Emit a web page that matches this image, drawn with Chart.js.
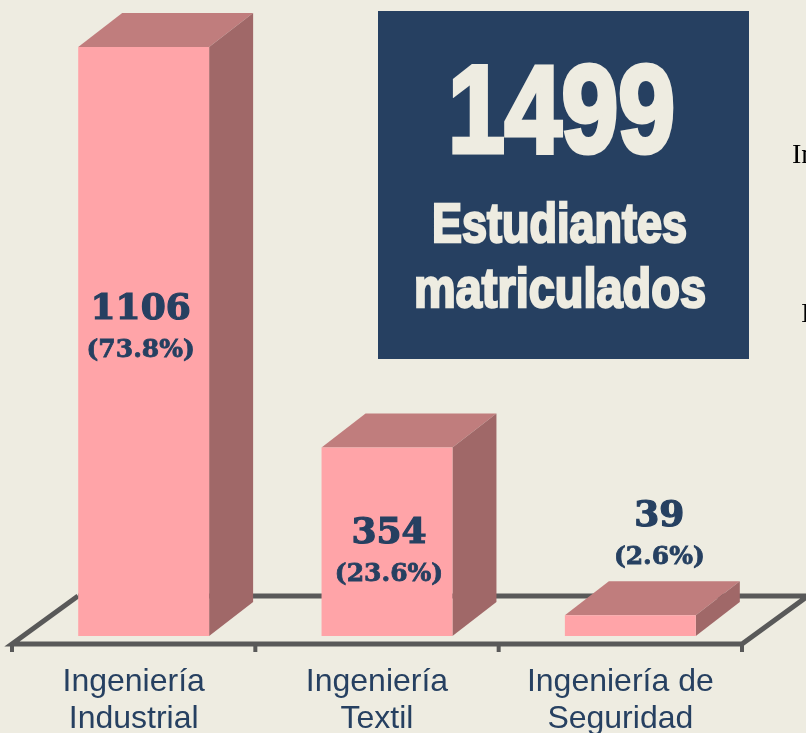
<!DOCTYPE html>
<html lang="es">
<head>
<meta charset="utf-8">
<style>
html,body{margin:0;padding:0;background:#EEECE1;overflow:hidden}
#wrap{position:relative;width:806px;height:733px}
canvas{display:block}
</style>
<script src="https://cdn.jsdelivr.net/npm/chart.js@4"></script>
</head>
<body>
<div id="wrap"><canvas id="c" width="806" height="733"></canvas></div>
<script>
const categories = [["Ingeniería","Industrial"],["Ingeniería","Textil"],["Ingeniería de","Seguridad"]];
const values = [1106, 354, 39];
const percents = ["(73.8%)", "(23.6%)", "(2.6%)"];
const totalValue = "1499";
const panelLines = ["Estudiantes", "matriculados"];
const clippedLegend = ["In", "I"];

const NAVY = "#264061", CREAM = "#EEECE1", FRONT = "#FFA4A8", TOP = "#C07D7D", SIDE = "#A06868", FLOOR = "#595959";
const DX = 44, DY = 34, FLOOR_DROP = 8, FLOOR_SHIFT = 10;
const LABEL_CENTERS = [310, 534, 517];
const LABEL_SHIFTS = [-3, 2, 29];
const PCT_GAP = 40;

function poly(ctx, pts, fill) {
  ctx.beginPath();
  pts.forEach((p, i) => i ? ctx.lineTo(p[0], p[1]) : ctx.moveTo(p[0], p[1]));
  ctx.closePath();
  ctx.fillStyle = fill;
  ctx.fill();
}
function fitText(ctx, text, left, right, baseline, font, fill, stroke) {
  ctx.save();
  ctx.font = font;
  ctx.textAlign = "left";
  ctx.textBaseline = "alphabetic";
  const w = ctx.measureText(text).width;
  ctx.translate(left, baseline);
  ctx.scale((right - left) / w, 1);
  ctx.fillStyle = fill;
  ctx.strokeStyle = fill;
  ctx.lineWidth = stroke;
  ctx.lineJoin = "miter";
  ctx.miterLimit = 3;
  ctx.fillText(text, 0, 0);
  if (stroke) ctx.strokeText(text, 0, 0);
  ctx.restore();
}

const scene3d = {
  id: "scene3d",
  beforeDatasetsDraw(chart) {
    const ctx = chart.ctx, xs = chart.scales.x, ys = chart.scales.y;
    const y0 = ys.getPixelForValue(0);
    const left = xs.left - FLOOR_SHIFT, right = xs.right - FLOOR_SHIFT, front = y0 + FLOOR_DROP;
    ctx.save();
    ctx.strokeStyle = FLOOR;
    ctx.lineWidth = 5;
    ctx.lineJoin = "miter";
    ctx.beginPath();
    ctx.moveTo(left + 66, front - 48);
    ctx.lineTo(left, front);
    ctx.lineTo(right, front);
    ctx.lineTo(right + 66, front - 48);
    ctx.moveTo(left + 66, front - 48);
    ctx.lineTo(806, front - 48);
    ctx.stroke();
    ctx.lineWidth = 4;
    ctx.beginPath();
    for (let i = 0; i <= categories.length; i++) {
      const x = left + i * (right - left) / categories.length;
      ctx.moveTo(x, front);
      ctx.lineTo(x, front + 8);
    }
    ctx.stroke();
    chart.getDatasetMeta(0).data.forEach(bar => {
      const l = bar.x - bar.width / 2, r = bar.x + bar.width / 2, t = bar.y, b = bar.base;
      poly(ctx, [[l, t], [r, t], [r + DX, t - DY], [l + DX, t - DY]], TOP);
      poly(ctx, [[r, t], [r + DX, t - DY], [r + DX, b - DY], [r, b]], SIDE);
    });
    ctx.restore();
  },
  afterDatasetsDraw(chart) {
    const ctx = chart.ctx;
    ctx.save();
    ctx.fillStyle = NAVY;
    ctx.strokeStyle = NAVY;
    ctx.textAlign = "center";
    ctx.textBaseline = "middle";
    chart.getDatasetMeta(0).data.forEach((bar, i) => {
      const c = bar.x + LABEL_SHIFTS[i];
      ctx.font = "bold 36px 'DejaVu Serif'";
      ctx.lineWidth = 1.2;
      ctx.fillText(String(values[i]), c, LABEL_CENTERS[i]);
      ctx.strokeText(String(values[i]), c, LABEL_CENTERS[i]);
      ctx.font = "bold 25px 'DejaVu Serif'";
      ctx.lineWidth = 0.8;
      ctx.fillText(percents[i], c, LABEL_CENTERS[i] + PCT_GAP);
      ctx.strokeText(percents[i], c, LABEL_CENTERS[i] + PCT_GAP);
    });
    ctx.fillStyle = NAVY;
    ctx.fillRect(378, 11, 371, 348);
    const F = "'Liberation Sans'";
    fitText(ctx, totalValue, 448, 675, 152, `bold 124px ${F}`, CREAM, 5);
    fitText(ctx, panelLines[0], 432, 687, 242, `bold 55px ${F}`, CREAM, 2.5);
    fitText(ctx, panelLines[1], 414, 706, 307, `bold 55px ${F}`, CREAM, 2.5);
    ctx.fillStyle = "#000";
    ctx.textAlign = "left";
    ctx.textBaseline = "alphabetic";
    ctx.font = "28px 'Liberation Serif'";
    ctx.fillText(clippedLegend[0], 792, 163);
    ctx.fillText(clippedLegend[1], 801, 322);
    ctx.restore();
  }
};

new Chart(document.getElementById("c"), {
  type: "bar",
  data: {
    labels: categories,
    datasets: [{
      data: values,
      backgroundColor: FRONT,
      barPercentage: 0.538,
      categoryPercentage: 1
    }]
  },
  options: {
    responsive: false,
    animation: false,
    layout: { padding: { left: 22, right: 54, top: 47, bottom: 0 } },
    plugins: { legend: { display: false }, tooltip: { enabled: false }, title: { display: false } },
    scales: {
      x: {
        grid: { display: false, drawTicks: false },
        border: { display: false },
        afterFit(scale) { scale.height = 97; },
        ticks: {
          color: NAVY,
          padding: 28,
          labelOffset: -FLOOR_SHIFT,
          autoSkip: false,
          maxRotation: 0,
          font: { family: "'Liberation Sans'", size: 32, lineHeight: 1.14 }
        }
      },
      y: { display: false, min: 0, max: 1106 }
    }
  },
  plugins: [scene3d]
});
</script>
</body>
</html>
